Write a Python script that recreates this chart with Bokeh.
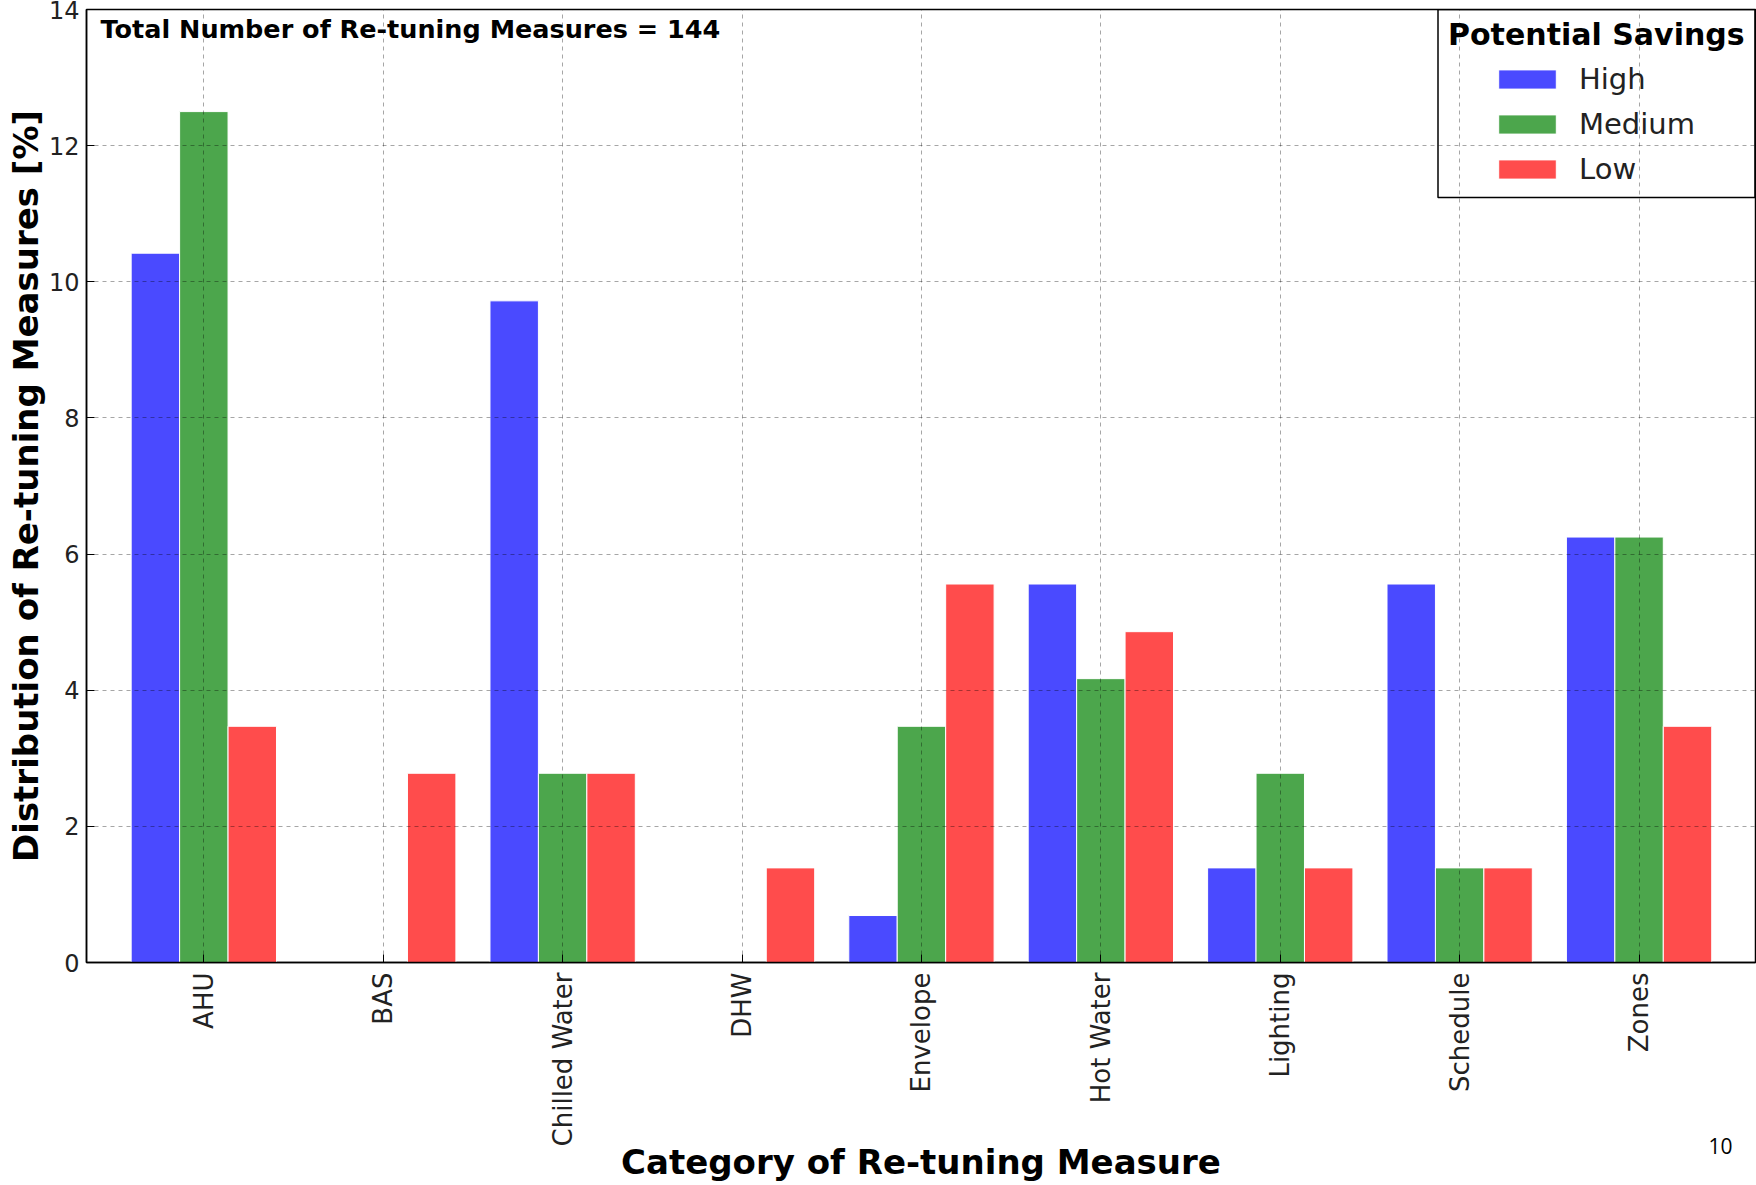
import numpy as np
from bokeh.plotting import figure
from bokeh.models import (ColumnDataSource, FixedTicker, Legend, LegendItem, Label,
                          BoxAnnotation, Range1d, LinearAxis)
from bokeh.embed import file_html
from bokeh.resources import INLINE

# ---------------- data ----------------
categories = ["AHU", "BAS", "Chilled Water", "DHW", "Envelope",
              "Hot Water", "Lighting", "Schedule", "Zones"]
high = [10.42, 0.0, 9.72, 0.0, 0.69, 5.56, 1.39, 5.56, 6.25]
medium = [12.50, 0.0, 2.78, 0.0, 3.47, 4.17, 2.78, 1.39, 6.25]
low = [3.47, 2.78, 2.78, 1.39, 5.56, 4.86, 1.39, 1.39, 3.47]
series_names = ["High", "Medium", "Low"]
y_ticks = [0, 2, 4, 6, 8, 10, 12, 14]
total_measures = 144
page_number = "10"

# ---------------- style ----------------
colors = ["#4a4aff", "#4ca64c", "#ff4c4c"]
offsets = [-0.27, 0.0, 0.27]
bar_width = 0.27
FONT = "DejaVu Sans"
PAGE_NUMBER_X = 8.454   # horizontal place of the slide's page number

W, H = 1756, 1185
p = figure(width=W, height=H, output_backend="svg", toolbar_location=None,
           x_range=Range1d(-0.654, 8.649), y_range=Range1d(0, 14),
           min_border_left=86, min_border_right=1, min_border_top=9,
           min_border_bottom=223)
p.background_fill_color = "white"
p.border_fill_color = "white"
p.outline_line_color = "black"
p.outline_line_width = 1.5

xs = np.arange(len(categories))
renderers = []
for vals, off, col in zip([high, medium, low], offsets, colors):
    src = ColumnDataSource(dict(x=xs + off, top=vals))
    r = p.vbar(x="x", top="top", width=bar_width, source=src,
               fill_color=col, line_color="white", line_width=1)
    renderers.append(r)

# axes
p.xaxis.ticker = FixedTicker(ticks=list(range(len(categories))))
p.xaxis.major_label_overrides = {i: c for i, c in enumerate(categories)}
p.xaxis.major_label_orientation = np.pi / 2
p.yaxis.ticker = FixedTicker(ticks=y_ticks)
for ax in (p.xaxis, p.yaxis):
    ax.major_tick_in = 8
    ax.major_tick_out = 0
    ax.minor_tick_line_color = None
    ax.axis_line_color = "black"
    ax.axis_line_width = 1.5
    ax.major_tick_line_color = "black"
    ax.major_label_text_font = FONT
    ax.major_label_text_color = "#222222"
    ax.axis_label_text_font = FONT
    ax.axis_label_text_font_style = "bold"
    ax.axis_label_text_font_size = "34px"
    ax.axis_label_text_color = "black"
    ax.axis_label_standoff = 0
p.xaxis.major_label_text_font_size = "26px"
p.yaxis.major_label_text_font_size = "24px"
p.xaxis.major_label_standoff = 10
p.yaxis.major_label_standoff = 7
p.xaxis.axis_label_standoff = -7
p.xaxis.axis_label = "Category of Re-tuning Measure"
p.yaxis.axis_label = "Distribution of Re-tuning Measures [%]"

# page number of the slide: an axis with a single, unmarked tick, below the x axis
page_axis = LinearAxis(ticker=FixedTicker(ticks=[PAGE_NUMBER_X]),
                       major_label_overrides={PAGE_NUMBER_X: page_number},
                       axis_line_color=None, major_tick_line_color=None,
                       minor_tick_line_color=None, major_tick_in=0, major_tick_out=0,
                       major_label_standoff=-48,
                       major_label_text_font="Open Sans",
                       major_label_text_font_size="21px",
                       major_label_text_color="black")
p.add_layout(page_axis, "below")

# grid (drawn over the bars, as in the reference)
p.xgrid.ticker = FixedTicker(ticks=list(range(len(categories))))
p.grid.grid_line_color = "black"
p.grid.grid_line_alpha = 0.35
p.grid.grid_line_dash = "4 4"
p.grid.grid_line_width = 1
p.grid.level = "guide"

# annotation text
p.add_layout(Label(x=14, y=934, x_units="screen", y_units="screen",
                   text=f"Total Number of Re-tuning Measures = {total_measures}",
                   text_font=FONT, text_font_style="bold", text_font_size="25.5px",
                   text_baseline="middle", text_color="black"))

# legend frame + title
p.add_layout(BoxAnnotation(left=1351.5, right=1668.5, top=953, bottom=765,
                           left_units="screen", right_units="screen",
                           top_units="screen", bottom_units="screen",
                           fill_alpha=0, line_color="black", line_alpha=1,
                           line_width=1.5))
p.add_layout(Label(x=1361.5, y=928, x_units="screen", y_units="screen",
                   text="Potential Savings", text_font=FONT,
                   text_font_style="bold", text_font_size="30px",
                   text_baseline="middle", text_color="black"))

legend = Legend(items=[LegendItem(label=n, renderers=[r])
                       for n, r in zip(series_names, renderers)],
                location=(1405, 776), padding=0, margin=0, spacing=11,
                glyph_width=72, glyph_height=24, label_standoff=16,
                label_text_font=FONT, label_text_font_size="29px",
                label_text_color="#222222",
                border_line_color=None, background_fill_alpha=0)
p.add_layout(legend)

open("out.html", "w").write(file_html(p, INLINE))
